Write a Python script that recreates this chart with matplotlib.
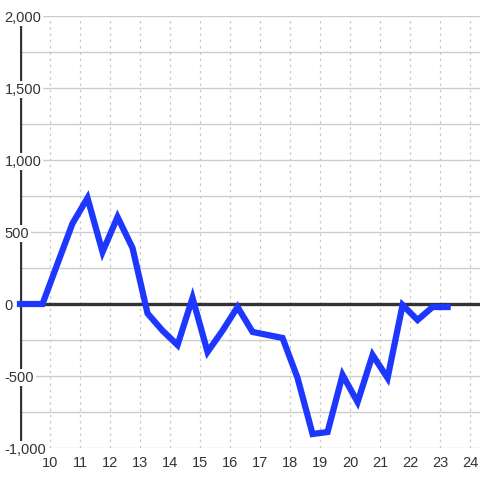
import matplotlib
matplotlib.use('Agg')
import matplotlib.pyplot as plt

plt.rcParams['font.family'] = ['Liberation Sans', 'DejaVu Sans']

# values
x = [9.0, 9.75, 10.25, 10.75, 11.25, 11.75, 12.25, 12.75, 13.25, 13.75,
     14.25, 14.75, 15.25, 15.75, 16.25, 16.75, 17.25, 17.75, 18.25, 18.75,
     19.25, 19.75, 20.25, 20.75, 21.25, 21.75, 22.25, 22.75, 23.25]
y = [0, 0, 280, 560, 736, 361, 604, 389, -65, -185,
     -285, 42, -333, -185, -21, -194, -215, -236, -514, -903,
     -889, -493, -681, -354, -514, -7, -111, -21, -21]

y_grid = [-1000, -750, -500, -250, 0, 250, 500, 750, 1000, 1250, 1500, 1750, 2000]
y_ticks = [-1000, -500, 0, 500, 1000, 1500, 2000]
y_labels = ['-1,000', '-500', '0', '500', '1,000', '1,500', '2,000']
x_ticks = list(range(10, 25))

fig = plt.figure(figsize=(4.8, 4.8), dpi=100)
ax = fig.add_axes([20 / 480, 32 / 480, 460 / 480, 432 / 480])
ax.set_xlim(9, 24.33)
ax.set_ylim(-1000, 2000)

for s in ax.spines.values():
    s.set_visible(False)

for g in y_grid:
    ax.axhline(g, color='#cccccc', lw=1, zorder=0.1)
for g in x_ticks:
    ax.axvline(g, color='#c8c8c8', lw=0.9, ls=(0, (2, 3)), zorder=0.1)

ax.axvline(9, color='#333333', lw=2.4, zorder=0.3)
ax.axhline(0, color='#333333', lw=2.4, zorder=0.3)

ax.set_axisbelow(True)
ax.set_yticks(y_ticks)
ax.set_yticklabels(y_labels)
ax.set_xticks(x_ticks)
ax.set_xticklabels([str(t) for t in x_ticks])
ax.tick_params(axis='y', length=0, pad=11, labelsize=10.5, labelcolor='#333333')
ax.tick_params(axis='x', length=0, pad=6, labelsize=10.5, labelcolor='#333333')
for lab in ax.get_yticklabels():
    lab.set_ha('left')
    lab.set_bbox(dict(facecolor='white', edgecolor='none', pad=1))

ax.plot(x, y, color='#1e37ff', lw=4.5, zorder=3, clip_on=False,
        solid_joinstyle='miter')

fig.savefig('out.png', dpi=100, facecolor='white')
